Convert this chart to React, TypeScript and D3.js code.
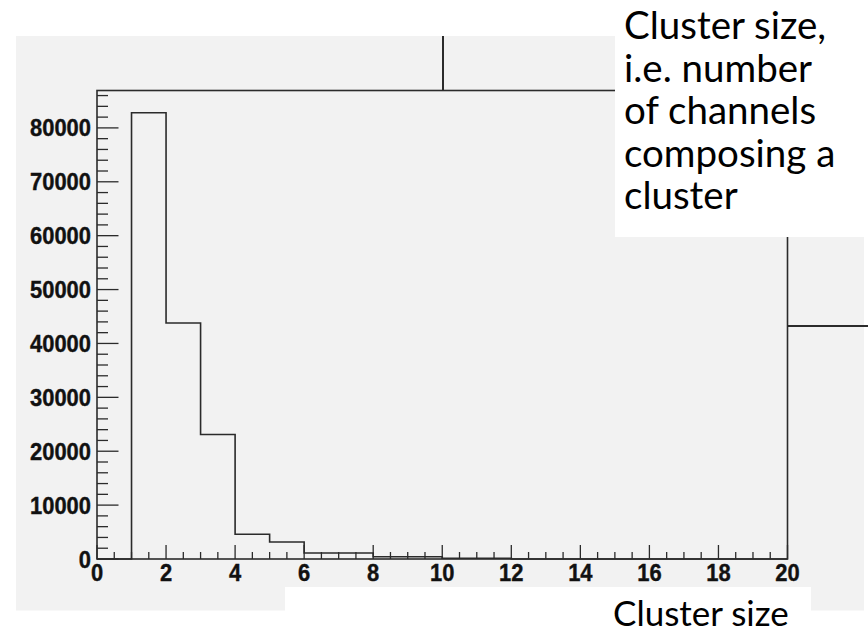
import React from "react";
import * as d3 from "d3";

// Cluster-size histogram: unit-width bins from 0 to 20
const binEdges: number[] = [0, 1, 2, 3, 4, 5, 6, 7, 8, 9, 10, 11, 12, 13, 14, 15, 16, 17, 18, 19, 20];
const binCounts: number[] = [0, 82800, 43800, 23100, 4600, 3150, 1100, 1100, 420, 420, 150, 150, 0, 0, 0, 0, 0, 0, 0, 0];
const yTickLabels: number[] = [0, 10000, 20000, 30000, 40000, 50000, 60000, 70000, 80000];
const xTickLabels: number[] = [0, 2, 4, 6, 8, 10, 12, 14, 16, 18, 20];
const noteLines: string[] = ["Cluster size,", "i.e. number", "of channels", "composing a", "cluster"];
const axisTitle = "Cluster size";

const W = 868;
const H = 637;
const frame = { left: 97, right: 787.5, top: 90.5, bottom: 559 };
const ink = "#2b2b2b";
const numFont = "'Liberation Sans', Arial, Helvetica, sans-serif";
const noteFont = "Lato, 'Open Sans', sans-serif";
// ROOT-style labels are slightly taller than the regular face
const labelStretch = "scale(1.02,1.1)";

export default function App() {
  const x = d3.scaleLinear().domain([0, 20]).range([frame.left, frame.right]);
  const yMax = d3.max(binCounts)! * 1.05;
  const y = d3.scaleLinear().domain([0, yMax]).range([frame.bottom, frame.top]);

  // step outline of the histogram
  const pts: [number, number][] = [[binEdges[0], 0]];
  binCounts.forEach((c, i) => {
    pts.push([binEdges[i], c]);
    pts.push([binEdges[i + 1], c]);
  });
  pts.push([binEdges[binEdges.length - 1], 0]);
  const stepLine = d3
    .line<[number, number]>()
    .x((d) => x(d[0]))
    .y((d) => y(d[1]));

  const yMinor = d3.range(0, yMax, 2000);
  const xMinor = d3.range(0, 20.001, 0.5);

  return (
    <svg
      width={W}
      height={H}
      style={{ position: "absolute", left: 0, top: 0, background: "#fff" }}
    >
      {/* canvas background */}
      <rect x={16} y={36} width={848} height={574.5} fill="#f2f2f2" />

      {/* connector lines around the frame */}
      <line x1={443} x2={443} y1={36} y2={frame.top} stroke={ink} strokeWidth={2} />
      <line x1={frame.right} x2={W} y1={326} y2={326} stroke={ink} strokeWidth={2} />

      {/* frame */}
      <rect
        x={frame.left}
        y={frame.top}
        width={frame.right - frame.left}
        height={frame.bottom - frame.top}
        fill="none"
        stroke={ink}
        strokeWidth={1.6}
      />

      {/* histogram */}
      <path d={stepLine(pts) ?? ""} fill="none" stroke={ink} strokeWidth={1.6} />

      {/* y ticks */}
      {yMinor.map((v) => {
        const major = v % 10000 === 0;
        return (
          <line
            key={"yt" + v}
            x1={frame.left}
            x2={frame.left + (major ? 21.5 : 11)}
            y1={y(v)}
            y2={y(v)}
            stroke={ink}
            strokeWidth={1.3}
          />
        );
      })}
      {/* x ticks */}
      {xMinor.map((v) => {
        const major = Math.abs(v % 2) < 1e-9;
        return (
          <line
            key={"xt" + v}
            x1={x(v)}
            x2={x(v)}
            y1={frame.bottom}
            y2={frame.bottom - (major ? 14 : 7)}
            stroke={ink}
            strokeWidth={1.3}
          />
        );
      })}

      {/* y labels */}
      {yTickLabels.map((v) => (
        <g key={"yl" + v} transform={`translate(${frame.left - 6},${y(v)}) ${labelStretch}`}>
          <text
            dy="0.36em"
            textAnchor="end"
            fontFamily={numFont}
            fontWeight="bold"
            fontSize={21.5}
            fill="#111"
            stroke="#111"
            strokeWidth={0.35}
          >
            {v}
          </text>
        </g>
      ))}
      {/* x labels */}
      {xTickLabels.map((v) => (
        <g key={"xl" + v} transform={`translate(${x(v)},581) ${labelStretch}`}>
          <text
            textAnchor="middle"
            fontFamily={numFont}
            fontWeight="bold"
            fontSize={21.5}
            fill="#111"
            stroke="#111"
            strokeWidth={0.35}
          >
            {v}
          </text>
        </g>
      ))}

      {/* annotation box */}
      <rect x={615} y={0} width={W - 615} height={237} fill="#fff" />
      {noteLines.map((t, i) => (
        <text
          key={"n" + i}
          x={624}
          y={39 + i * 42.5}
          fontFamily={noteFont}
          fontSize={38.5}
          fill="#000"
        >
          {t}
        </text>
      ))}

      {/* axis title box */}
      <rect x={285} y={587} width={811 - 285} height={H - 587} fill="#fff" />
      <text x={613} y={626} fontFamily={noteFont} fontSize={35} fill="#000">
        {axisTitle}
      </text>
    </svg>
  );
}
